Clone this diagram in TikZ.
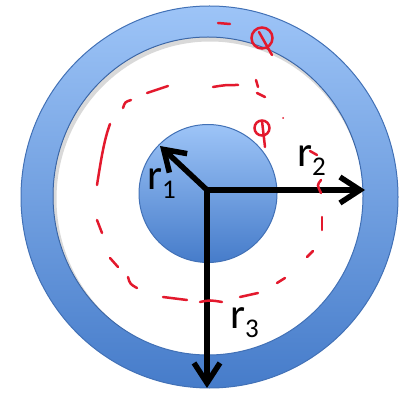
\documentclass[tikz,border=0pt]{standalone}
\usepackage{fontspec}
\setmainfont{Carlito}
\usetikzlibrary{arrows.meta}
\definecolor{ringtop}{HTML}{9DC4F7}
\definecolor{ringbot}{HTML}{467CCA}
\definecolor{ringline}{HTML}{4271B6}
\definecolor{ink}{HTML}{E3192D}
\newcommand{\subidx}[1]{\raisebox{-9pt}{\fontsize{27}{27}\selectfont #1}}

\begin{document}
\begin{tikzpicture}[x=1pt, y=-1pt, disk/.style={top color=ringtop, bottom color=ringbot, draw=ringline, line width=1pt}, arr/.style={-{Straight Barb[length=20pt, width=26pt]}, line width=5.5pt, line cap=rect}, lbl/.style={anchor=base west, inner sep=0pt, font=\fontsize{43}{43}\selectfont}, redink/.style={draw=ink, line width=2.5pt, line cap=round}]
\useasboundingbox (0,0) rectangle (409,395);
% outer ring and inner disk
\path[disk, even odd rule] (209.5,197) ellipse [x radius=188.5pt, y radius=191pt] (208,196) ellipse [x radius=155pt, y radius=159pt];
\begin{scope}
\clip (208,196) ellipse [x radius=155pt, y radius=159pt];
\draw[black, opacity=0.15, line width=7pt] (210,199) ellipse [x radius=157pt, y radius=161pt];
\end{scope}
\path[disk] (208,193.5) circle [radius=69pt];
% radii
\coordinate (O) at (207,190);
\coordinate (t1) at (160,146);
\coordinate (t2) at (365,190);
\coordinate (t3) at (207,388);
\draw[arr] (O) -- (t1);
\draw[arr] (O) -- (t2);
\draw[arr] (O) -- (t3);
\node[lbl] (r1) at (147,190) {r\subidx{1}};
\node[lbl] (r2) at (297,167) {r\subidx{2}};
\node[lbl] (r3) at (230,328) {r\subidx{3}};
% red pen marks
\draw[redink] (218,23) -- (230,24);
\draw[redink] (262,38) circle [radius=10.5pt];
\draw[redink] (259,32) -- (272,55);
\draw[redink] (256,80) -- (258,87);
\draw[redink] (257,93) -- (265,97);
\draw[redink] (213,87) .. controls (225,85) .. (238,85);
\draw[redink] (147,93) -- (168,86);
\draw[redink] (123,108) .. controls (125,102) .. (131,100);
\draw[redink] (110,124) .. controls (104,140) and (101,160) .. (97,185);
\draw[redink] (97,220) -- (102,233);
\draw[redink] (110,258) -- (118,267);
\draw[redink] (128,277) .. controls (130,284) .. (137,288);
\draw[redink] (163,297) -- (187,300);
\draw[redink] (200,302) .. controls (210,300) .. (222,302);
\draw[redink] (240,297) -- (258,293);
\draw[redink] (277,283) -- (285,278);
\draw[redink] (307,257) -- (313,251);
\draw[redink] (322,217) -- (322,230);
\draw[redink] (321,180) .. controls (317,185) .. (321,193);
\draw[redink] (310,151) -- (317,155);
\draw[redink] (262,128) circle [radius=7.5pt];
\draw[redink] (262,121) -- (265,147);
\fill[ink] (283,118) circle [radius=1pt];
\end{tikzpicture}
\end{document}
